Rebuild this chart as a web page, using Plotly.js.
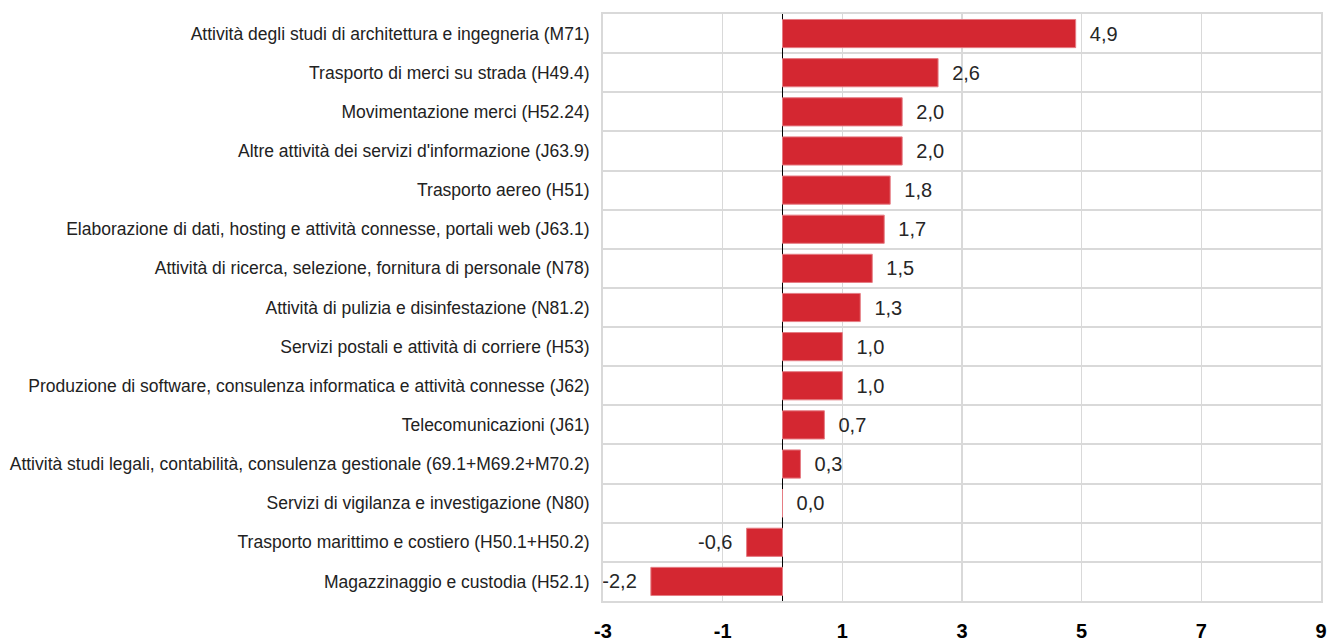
<!DOCTYPE html>
<html>
<head>
<meta charset="utf-8">
<script src="https://cdn.plot.ly/plotly-3.0.1.min.js"></script>
<style>html,body{margin:0;padding:0;background:#fff;}#chart{width:1328px;height:644px;}</style>
</head>
<body>
<div id="chart"></div>
<script>
// categories listed top to bottom
const categories = [
  "Attività degli studi di architettura e ingegneria (M71)",
  "Trasporto di merci su strada (H49.4)",
  "Movimentazione merci (H52.24)",
  "Altre attività dei servizi d'informazione (J63.9)",
  "Trasporto aereo (H51)",
  "Elaborazione di dati, hosting e attività connesse, portali web (J63.1)",
  "Attività di ricerca, selezione, fornitura di personale (N78)",
  "Attività di pulizia e disinfestazione (N81.2)",
  "Servizi postali e attività di corriere (H53)",
  "Produzione di software, consulenza informatica e attività connesse (J62)",
  "Telecomunicazioni (J61)",
  "Attività studi legali, contabilità, consulenza gestionale (69.1+M69.2+M70.2)",
  "Servizi di vigilanza e investigazione (N80)",
  "Trasporto marittimo e costiero (H50.1+H50.2)",
  "Magazzinaggio e custodia (H52.1)"
];
const values = [4.9, 2.6, 2.0, 2.0, 1.8, 1.7, 1.5, 1.3, 1.0, 1.0, 0.7, 0.3, 0.0, -0.6, -2.2];
const xTickVals = [-3, -1, 1, 3, 5, 7, 9];

const FONT = 'Liberation Sans, Arial, sans-serif';
const GAP = '\u00a0\u00a0';

const trace = {
  type: 'bar',
  orientation: 'h',
  y: categories,
  x: values,
  marker: { color: '#d42731', line: { color: '#e57d84', width: 1 } },
  texttemplate: values.map(v => v < 0 ? '%{x:.1f}' + GAP : GAP + '%{x:.1f}'),
  textposition: 'outside',
  cliponaxis: false,
  textfont: { family: FONT, size: 20, color: '#262626' },
  hoverinfo: 'skip'
};

const layout = {
  width: 1328,
  height: 644,
  margin: { l: 603, r: 7, t: 14, b: 43, pad: 0 },
  paper_bgcolor: '#ffffff',
  plot_bgcolor: '#ffffff',
  separators: ',.',
  showlegend: false,
  bargap: 0.28,
  xaxis: {
    range: [-3, 9],
    tickvals: xTickVals,
    ticktext: xTickVals.map(String),
    showgrid: true,
    gridcolor: '#d9d9d9',
    gridwidth: 1.5,
    zeroline: true,
    zerolinecolor: '#000000',
    zerolinewidth: 1.5,
    showline: true,
    linecolor: '#d9d9d9',
    linewidth: 2,
    mirror: true,
    ticks: '',
    tickfont: { family: FONT, size: 20, color: '#000000', weight: 'bold' },
    ticklabelstandoff: 11,
    fixedrange: true
  },
  yaxis: {
    type: 'category',
    autorange: 'reversed',
    tickson: 'boundaries',
    showgrid: true,
    gridcolor: '#d9d9d9',
    gridwidth: 2,
    showline: true,
    linecolor: '#d9d9d9',
    linewidth: 2,
    mirror: true,
    ticks: '',
    ticklabelstandoff: 8,
    tickfont: { family: FONT, size: 17.5, color: '#222222' },
    fixedrange: true
  }
};

Plotly.newPlot('chart', [trace], layout, { displayModeBar: false, staticPlot: true });
</script>
</body>
</html>
